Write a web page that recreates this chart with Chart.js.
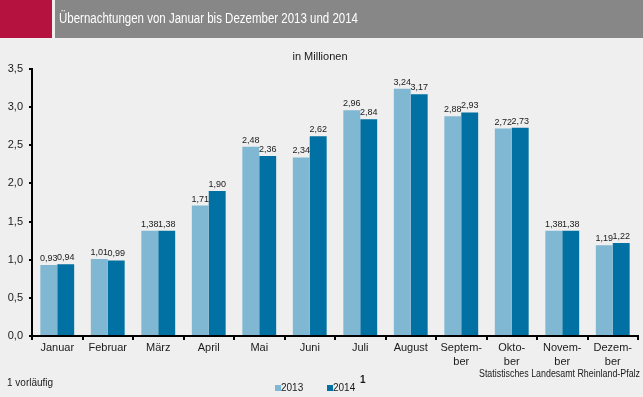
<!DOCTYPE html>
<html>
<head>
<meta charset="utf-8">
<script src="https://cdn.jsdelivr.net/npm/chart.js@4/dist/chart.umd.min.js"></script>
<style>
  html, body { margin: 0; padding: 0; background: #eeefee; }
  canvas { display: block; }
</style>
</head>
<body>
<canvas id="uebernachtungen" width="643" height="397"></canvas>
<script>
// Monate (mehrzeilig wie im Original)
const monate = [
  "Januar", "Februar", "März", "April", "Mai", "Juni", "Juli", "August",
  ["Septem-", "ber"], ["Okto-", "ber"], ["Novem-", "ber"], ["Dezem-", "ber"]
];
// Übernachtungen in Millionen
const werte2013 = [0.93, 1.01, 1.38, 1.71, 2.48, 2.34, 2.96, 3.24, 2.88, 2.72, 1.38, 1.19];
const werte2014 = [0.94, 0.99, 1.38, 1.90, 2.36, 2.62, 2.84, 3.17, 2.93, 2.73, 1.38, 1.22];
const jahre = ["2013", "2014"];
const yMin = 0, yMax = 3.5, yStep = 0.5;

const farben = ["#80b7d3", "#0071a2"];
const textFarbe = "#1a1a1a";
const schrift = "'Liberation Sans', Arial, sans-serif";

const komma = (v, n) => v.toFixed(n).replace(".", ",");

// Hintergrund, Kopfzeile und Zusatztexte
const rahmenPlugin = {
  id: "rahmen",
  beforeDraw(chart) {
    const ctx = chart.ctx;
    ctx.save();
    ctx.fillStyle = "#eeefee";
    ctx.fillRect(0, 0, chart.width, chart.height);
    ctx.fillStyle = "#b5123f";
    ctx.fillRect(0, 0, 52, 38);
    ctx.fillStyle = "#878787";
    ctx.fillRect(55, 0, chart.width - 55, 38);
    ctx.fillStyle = "#ffffff";
    ctx.font = "14px " + schrift;
    ctx.textBaseline = "middle";
    ctx.fillText("Übernachtungen von Januar bis Dezember 2013 und 2014", 59, 19, 299);
    ctx.restore();
  },
  afterDraw(chart) {
    const ctx = chart.ctx;
    ctx.save();
    ctx.fillStyle = textFarbe;
    ctx.textBaseline = "middle";
    ctx.textAlign = "center";
    ctx.font = "11px " + schrift;
    ctx.fillText("in Millionen", 320, 57);

    ctx.textAlign = "left";
    ctx.font = "10px " + schrift;
    ctx.fillText("1 vorläufig", 7, 383);

    ctx.textAlign = "right";
    ctx.fillText("Statistisches Landesamt Rheinland-Pfalz", 640, 374, 161);

    // Legende
    ctx.textAlign = "left";
    const legX = [275, 327];
    jahre.forEach((j, i) => {
      ctx.fillStyle = farben[i];
      ctx.fillRect(legX[i], 385, 6, 6);
      ctx.fillStyle = textFarbe;
      ctx.fillText(j, legX[i] + 6, 388);
    });
    ctx.font = "bold 10px " + schrift;
    ctx.fillText("1", 360, 380);
    ctx.restore();
  }
};

// Werte über den Säulen
const wertePlugin = {
  id: "werte",
  afterDatasetsDraw(chart) {
    const ctx = chart.ctx;
    ctx.save();
    ctx.font = "9px " + schrift;
    ctx.fillStyle = textFarbe;
    ctx.textAlign = "center";
    ctx.textBaseline = "alphabetic";
    chart.data.datasets.forEach((ds, i) => {
      chart.getDatasetMeta(i).data.forEach((bar, k) => {
        ctx.fillText(komma(ds.data[k], 2), bar.x, bar.y - 4);
      });
    });
    ctx.restore();
  }
};

new Chart(document.getElementById("uebernachtungen"), {
  type: "bar",
  data: {
    labels: monate,
    datasets: [
      { label: jahre[0], data: werte2013, backgroundColor: farben[0] },
      { label: jahre[1], data: werte2014, backgroundColor: farben[1] }
    ]
  },
  options: {
    responsive: false,
    animation: false,
    devicePixelRatio: 1,
    layout: { padding: { left: 0, top: 69, right: 5, bottom: 21 } },
    datasets: {
      bar: { categoryPercentage: 0.67, barPercentage: 1 }
    },
    plugins: {
      legend: { display: false },
      title: { display: false },
      tooltip: { enabled: false }
    },
    scales: {
      x: {
        afterFit: (s) => { s.height = 40; },
        grid: { drawOnChartArea: false, drawTicks: true, tickLength: 4, color: "#000", lineWidth: 2 },
        border: { color: "#000", width: 2 },
        ticks: {
          color: textFarbe,
          padding: 1,
          maxRotation: 0,
          autoSkip: false,
          font: { family: schrift, size: 11, lineHeight: 1.3 }
        }
      },
      y: {
        min: yMin,
        max: yMax,
        afterFit: (s) => { s.width = 32; },
        grid: { drawOnChartArea: false, drawTicks: true, tickLength: 3, color: "#000", lineWidth: 2 },
        border: { color: "#000", width: 2 },
        ticks: {
          stepSize: yStep,
          color: textFarbe,
          padding: 6,
          font: { family: schrift, size: 11 },
          callback: (v) => komma(v, 1)
        }
      }
    }
  },
  plugins: [rahmenPlugin, wertePlugin]
});
</script>
</body>
</html>
